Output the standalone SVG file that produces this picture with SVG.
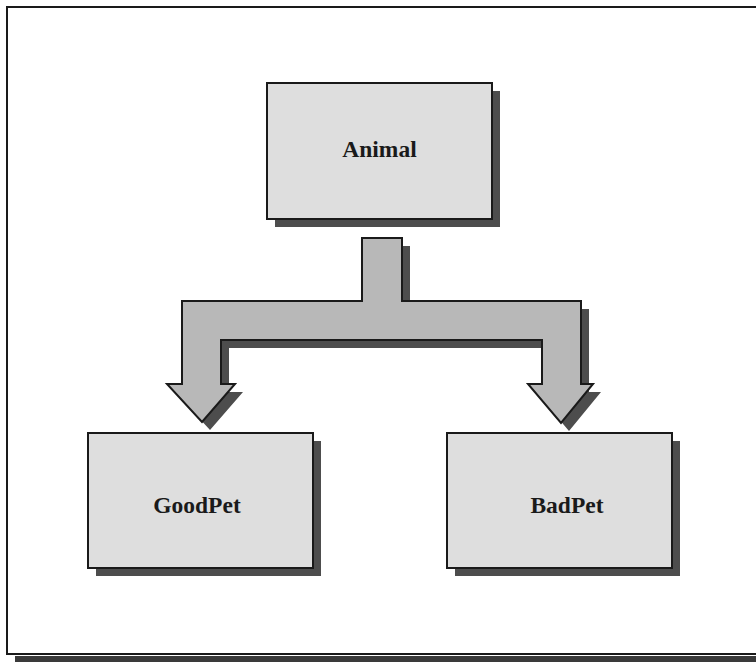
<svg xmlns="http://www.w3.org/2000/svg" width="756" height="662" viewBox="0 0 756 662">
  <style>
    .box { fill: #dedede; stroke: #1a1a1a; stroke-width: 2; }
    .shadow { fill: #4d4d4d; }
    .arrow { fill: #b8b8b8; stroke: #1a1a1a; stroke-width: 2; stroke-linejoin: miter; }
    .label { font-family: "Liberation Serif", "Times New Roman", serif; font-weight: bold; font-size: 23.5px; fill: #1a1a1a; text-anchor: middle; }
  </style>
  <defs>
    <path id="fork" d="M362,238 L402,238 L402,301 L581,301 L581,384 L593,384 L561,423 L528,384 L542,384 L542,340 L221,340 L221,384 L235,384 L202,422 L167,384 L182,384 L182,301 L362,301 Z"/>
  </defs>

  <!-- page background and frame -->
  <rect x="0" y="0" width="756" height="662" fill="#ffffff"/>
  <rect x="15" y="656" width="741" height="6" fill="#3a3a3a"/>
  <path d="M757,7 L7,7 L7,654 L757,654" fill="none" stroke="#1a1a1a" stroke-width="2"/>

  <!-- connectors -->
  <g id="connectors">
    <use href="#fork" class="shadow" transform="translate(8,8)"/>
    <use href="#fork" class="arrow"/>
  </g>

  <!-- nodes -->
  <g id="animal">
    <rect class="shadow" x="275" y="91" width="225" height="136"/>
    <rect class="box" x="267" y="83" width="225" height="136"/>
    <text class="label" x="379.5" y="157">Animal</text>
  </g>
  <g id="goodpet">
    <rect class="shadow" x="96" y="441" width="225" height="135"/>
    <rect class="box" x="88" y="433" width="225" height="135"/>
    <text class="label" x="197" y="513">GoodPet</text>
  </g>
  <g id="badpet">
    <rect class="shadow" x="455" y="441" width="225" height="135"/>
    <rect class="box" x="447" y="433" width="225" height="135"/>
    <text class="label" x="567" y="513">BadPet</text>
  </g>
</svg>
